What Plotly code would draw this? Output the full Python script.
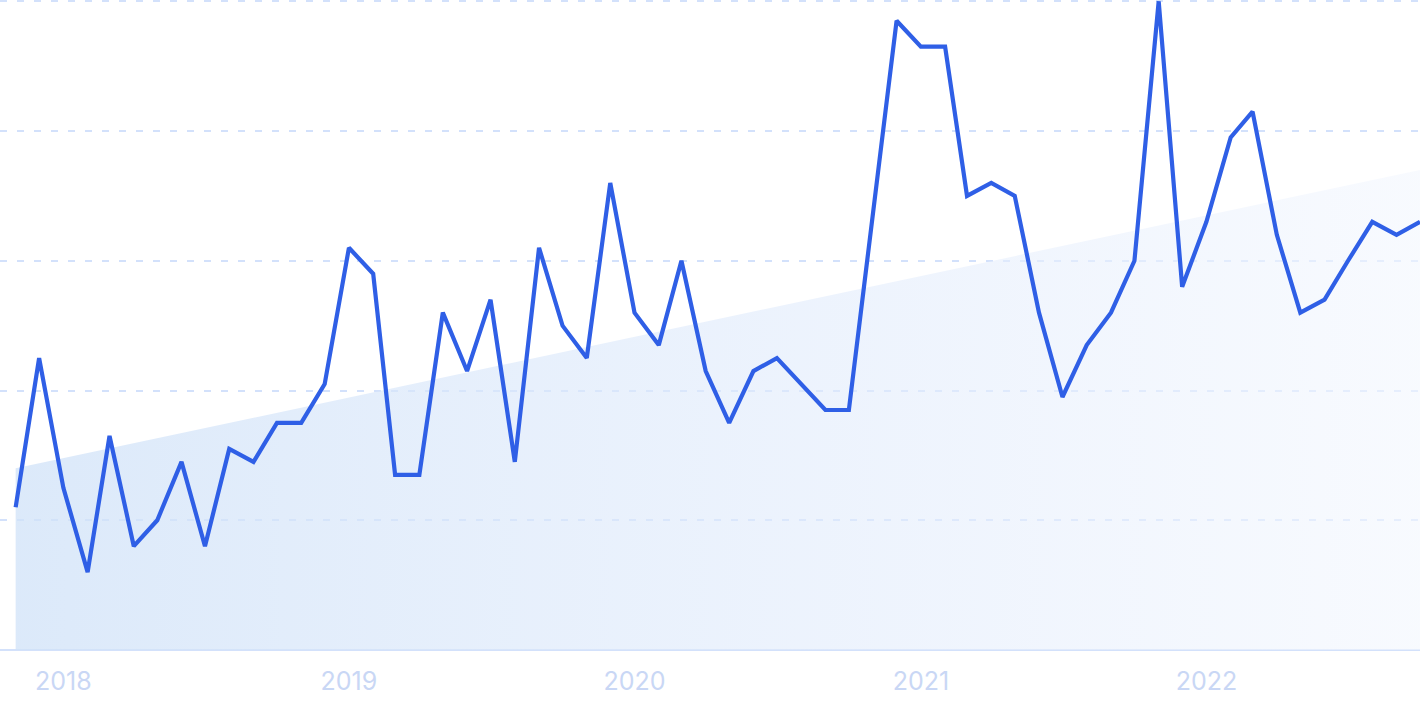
import plotly.graph_objects as go
import pandas as pd

months = pd.date_range("2017-11-01", "2022-10-01", freq="MS")
values = [22, 45, 25, 12, 33, 16, 20, 29, 16, 31, 29, 35, 35, 41,
          62, 58, 27, 27, 52, 43, 54, 29, 62, 50, 45, 72,
          52, 47, 60, 43, 35, 43, 45, 41, 37, 37, 67, 97,
          93, 93, 70, 72, 70, 52, 39, 47, 52, 60, 100, 56,
          66, 79, 83, 64, 52, 54, 60, 66, 64, 66]
trend_dates = [months[0], months[-1]]
trend_values = [28, 74]
tick_dates = pd.date_range("2018-01-01", "2022-01-01", freq="YS")
tick_labels = ["2018", "2019", "2020", "2021", "2022"]

fig = go.Figure()
fig.add_trace(go.Scatter(
    x=trend_dates, y=trend_values, mode="lines", line=dict(width=0),
    fill="tozeroy",
    fillgradient=dict(type="horizontal",
                      colorscale=[[0, "rgba(208,226,248,0.75)"], [0.6, "rgba(226,236,252,0.6)"],
                                  [1, "rgba(243,247,254,0.6)"]]),
    hoverinfo="skip", showlegend=False))
fig.add_trace(go.Scatter(
    x=months, y=values, mode="lines",
    line=dict(color="#2f5fe6", width=4.2), showlegend=False))

x0 = months[0] - pd.Timedelta(days=20)
fig.update_layout(
    width=1425, height=712,
    margin=dict(l=0, r=5, t=0, b=62),
    paper_bgcolor="white", plot_bgcolor="white",
    font=dict(family="Inter, sans-serif"),
    xaxis=dict(range=[x0, months[-1]], tickvals=tick_dates, ticktext=tick_labels,
               showgrid=False, zeroline=False, showline=False, ticks="",
               ticklabelstandoff=14,
               tickfont=dict(size=25, color="#c9d7f5")),
    yaxis=dict(range=[0, 100.2], tickvals=[0, 20, 40, 60, 80, 100], showticklabels=False,
               showgrid=True, gridcolor="#d3e1fb", gridwidth=1.5, griddash="7px,10px",
               zeroline=True, zerolinecolor="#d3e1fb", zerolinewidth=1.5),
)
fig.write_html("out.html", config={"displayModeBar": False},
               post_script="document.body.style.margin='0';")
